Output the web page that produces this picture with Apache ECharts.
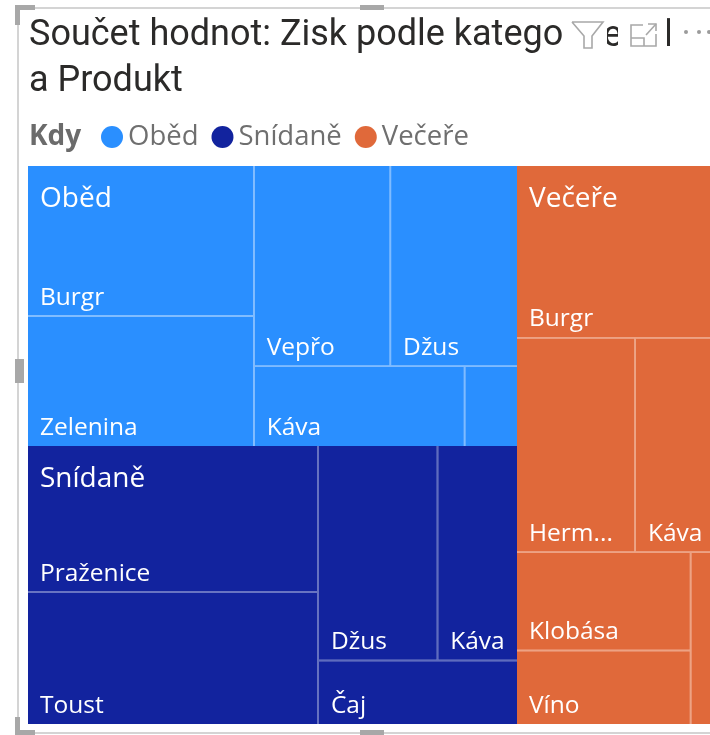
<!DOCTYPE html>
<html><head><meta charset="utf-8">
<style>html,body{margin:0;padding:0;background:#fff;overflow:hidden}#c{width:710px;height:735px}</style>
<script src="https://cdn.jsdelivr.net/npm/echarts@6/dist/echarts.min.js"></script>
</head><body><div id="c"></div>
<script>
const groups = ['Oběd', 'Snídaně', 'Večeře'];
const groupColors = ['#2A8FFF', '#12239E', '#E0693A'];
const groupGaps = ['#7FBBFF', '#5E6CBE', '#EDA283'];
const obedNames = ['Burgr', 'Zelenina', 'Vepřo', 'Džus', 'Káva', ' '];
const obedValues = [33900, 29380, 27200, 25400, 16800, 4240];
const snidaneNames = ['Praženice', 'Toust', 'Džus', 'Káva', 'Čaj'];
const snidaneValues = [42340, 38280, 25466, 17120, 12736];
const vecereNames = ['Burgr', 'Herm...', 'Káva', 'Klobása', 'Víno', ' '];
const vecereValues = [33196, 25252, 16050, 16954, 12802, 3440];

const namesBy = [obedNames, snidaneNames, vecereNames];
const valuesBy = [obedValues, snidaneValues, vecereValues];
const sum = a => a.reduce((s, v) => s + v, 0);
const FONT = '"Open Sans", "Noto Sans", sans-serif';
const GREY = '#a8a8a8';
const CLEAR = 'rgba(0,0,0,0)';

const tree = groups.map((g, i) => ({
  name: g,
  value: sum(valuesBy[i]),
  itemStyle: { color: groupColors[i], borderColor: groupGaps[i], borderWidth: 0, gapWidth: 1.5 },
  children: namesBy[i].map((n, j) => ({
    name: n, value: valuesBy[i][j],
    itemStyle: { color: groupColors[i], borderWidth: 0 }
  }))
}));
const overlay = groups.map((g, i) => ({
  name: g, value: sum(valuesBy[i]),
  itemStyle: { color: CLEAR, borderColor: CLEAR, borderWidth: 0 }
}));
const common = {
  type: 'treemap', roam: false, nodeClick: false, breadcrumb: { show: false }, sort: false,
  left: 28, top: 166, width: 682, height: 558,
  itemStyle: { borderWidth: 0, gapWidth: 0 }
};

const line = (pts, w = 1.6, c = GREY) => ({ type: 'polyline', z: 110, silent: true, shape: { points: pts }, style: { stroke: c, lineWidth: w, fill: null } });
const rect = (x, y, width, height, fill) => ({ type: 'rect', z: 105, silent: true, shape: { x, y, width, height }, style: { fill } });
const frag = (x, t) => ({ type: 'text', z: 104, silent: true, style: { x, y: 19, text: t, font: '36px Roboto, sans-serif', fill: '#2b2a29' } });

const chart = echarts.init(document.getElementById('c'), null, { renderer: 'canvas' });
chart.setOption({
  backgroundColor: '#fff',
  title: {
    text: 'Součet hodnot: Zisk podle kategorie\na Produkt',
    left: 29, top: 13, padding: 0,
    textStyle: { fontFamily: 'Roboto, sans-serif', fontSize: 36, fontWeight: 400, color: '#2b2a29', lineHeight: 46 }
  },
  legend: {
    left: 96, top: 118, icon: 'circle', itemWidth: 22, itemHeight: 22, itemGap: 13,
    selectedMode: false, data: groups,
    itemStyle: { opacity: 1 },
    textStyle: { fontFamily: FONT, fontSize: 27.5, color: '#6f6f6f' }
  },
  grid: { left: 0, top: 0, width: 1, height: 1, show: false },
  xAxis: { show: false, type: 'value' },
  yAxis: { show: false, type: 'value' },
  series: [
    ...groups.map((g, i) => ({ type: 'scatter', name: g, data: [], itemStyle: { color: groupColors[i], opacity: 1 } })),
    Object.assign({}, common, {
      name: 'Zisk', data: tree,
      label: { show: true, position: 'insideBottomLeft', padding: [0, 0, 5, 12], fontFamily: FONT, fontSize: 24.5, color: '#fff', ellipsis: '...' },
      levels: [{ itemStyle: { gapWidth: 0, borderWidth: 0 } }, { itemStyle: { gapWidth: 1.5, borderWidth: 0 } }, {}]
    }),
    Object.assign({}, common, {
      name: 'Kdy', data: overlay, silent: true, z: 5,
      itemStyle: { borderWidth: 0, gapWidth: 0, borderColor: CLEAR, color: CLEAR },
      levels: [{ itemStyle: { borderColor: CLEAR, gapWidth: 0, borderWidth: 0 } }, {}],
      label: { show: true, position: 'insideTopLeft', distance: 0, padding: [19, 0, 0, 12], fontFamily: FONT, fontSize: 28, color: '#fff' }
    })
  ],
  graphic: [
    { type: 'text', z: 100, silent: true, style: { x: 29, y: 123, text: 'Kdy', font: 'bold 28px ' + FONT, fill: '#6b6b6b' } },
    // masks over the clipped title, visual header icons
    rect(563, 10, 44, 44, '#fff'), frag(603, 'e'), rect(618, 10, 49, 44, '#fff'), frag(664, 'l'), rect(672, 10, 38, 44, '#fff'),
    // frame
    rect(17, 7, 2, 728, '#d4d4d4'), rect(17, 7, 693, 2, '#d4d4d4'), rect(17, 732, 693, 2, '#d4d4d4'),
    rect(15, 5, 20, 5, GREY), rect(15, 5, 5, 20, GREY),
    rect(15, 717, 5, 18, GREY), rect(15, 730, 20, 5, GREY),
    rect(360, 5, 24, 5, GREY), rect(360, 730, 24, 5, GREY), rect(15, 359, 9, 24, GREY),
    // filter icon
    line([[572, 22], [603, 22], [592, 36], [592, 48], [584, 48], [584, 36], [572, 22]]),
    // focus icon
    line([[643, 25], [631, 25], [631, 46], [656, 46], [656, 34]]),
    line([[631, 38], [644, 38], [644, 46]]),
    line([[646, 35], [656, 24]]), line([[648, 24], [656, 24], [656, 31]]),
    // more
    ...[686, 699, 709].map(x => ({ type: 'circle', z: 110, silent: true, shape: { cx: x, cy: 32, r: 2 }, style: { fill: '#9b9b9b' } }))
  ]
});
</script></body></html>
